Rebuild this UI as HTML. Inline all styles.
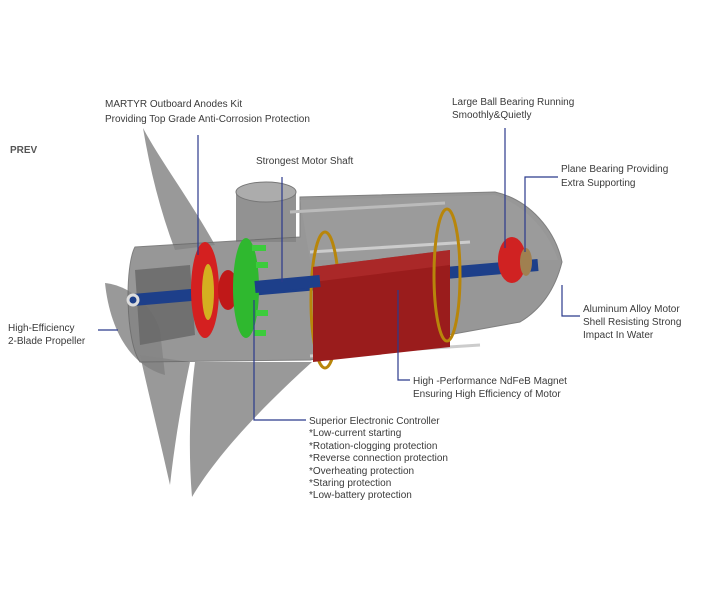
<!DOCTYPE html>
<html><head><meta charset="utf-8"><style>
html,body{margin:0;padding:0;background:#fff;}
svg{display:block;}
text{font-family:"Liberation Sans",sans-serif;font-size:10px;fill:#3a3a3a;}
</style></head><body>
<svg width="710" height="600" viewBox="0 0 710 600" xmlns="http://www.w3.org/2000/svg">
<rect width="710" height="600" fill="#fff"/>
<path d="M143,128 C160,160 190,200 215,245 L175,250 C160,210 150,170 143,128Z" fill="#808080" opacity="0.8"/>
<path d="M140,355 L190,362 C182,400 175,440 170,485 C160,440 150,400 140,355Z" fill="#808080" opacity="0.8"/>
<path d="M195,362 L312,362 C270,400 220,450 192,497 C188,450 190,400 195,362Z" fill="#808080" opacity="0.8"/>
<path d="M105,283 C125,285 150,300 160,330 L165,375 C130,365 110,330 105,283Z" fill="#808080" opacity="0.8"/>
<rect x="236" y="192" width="60" height="50" fill="#929292"/>
<ellipse cx="266" cy="192" rx="30" ry="10" fill="#acacac" stroke="#777"/>
<path d="M135,247 L300,237 L300,197 L495,192 C530,200 555,230 562,262 C555,290 540,310 520,322 L310,360 L140,362 C125,340 125,265 135,247Z" fill="#858585" opacity="0.85" stroke="#6a6a6a"/>
<path d="M300,200 L495,195 C525,205 548,230 558,260 L310,260Z" fill="#a0a0a0" opacity="0.5"/>
<line x1="290" y1="212" x2="445" y2="203" stroke="#bbb" stroke-width="3"/>
<line x1="310" y1="252" x2="470" y2="242" stroke="#ccc" stroke-width="3"/>
<line x1="310" y1="356" x2="480" y2="345" stroke="#ccc" stroke-width="3"/>
<path d="M135,270 L190,265 L195,335 L140,345Z" fill="#666" opacity="0.8"/>
<line x1="133" y1="300" x2="538" y2="265" stroke="#1d3f8a" stroke-width="12"/>
<circle cx="133" cy="300" r="5" fill="#1d3f8a" stroke="#ddd" stroke-width="3"/>
<ellipse cx="325" cy="300" rx="14" ry="68" fill="none" stroke="#b8860b" stroke-width="3"/>
<path d="M313,267 L450,250 L450,347 L313,362Z" fill="#9a1c1c"/>
<path d="M313,267 L450,250 L450,265 L313,282Z" fill="#b53030" opacity="0.6"/>
<ellipse cx="447" cy="275" rx="13" ry="66" fill="none" stroke="#b8860b" stroke-width="3"/>
<ellipse cx="205" cy="290" rx="14" ry="48" fill="#d42020"/>
<ellipse cx="208" cy="292" rx="6" ry="28" fill="#d4b020"/>
<ellipse cx="228" cy="290" rx="10" ry="20" fill="#c01818"/>
<ellipse cx="246" cy="288" rx="13" ry="50" fill="#2fb82f"/>
<rect x="252" y="245" width="14" height="6" fill="#3ccc3c"/>
<rect x="256" y="262" width="12" height="6" fill="#3ccc3c"/>
<rect x="256" y="310" width="12" height="6" fill="#3ccc3c"/>
<rect x="254" y="330" width="12" height="6" fill="#3ccc3c"/>
<line x1="255" y1="287" x2="320" y2="281" stroke="#1d3f8a" stroke-width="12"/>
<ellipse cx="512" cy="260" rx="14" ry="23" fill="#d02222"/>
<ellipse cx="526" cy="262" rx="6" ry="14" fill="#a08050"/>
<g stroke="#2b3a8c" stroke-width="1.2" fill="none">
<path d="M198,135 V255"/>
<path d="M505,128 V248"/>
<path d="M282,177 V282"/>
<path d="M558,177 H525 V252"/>
<path d="M580,316 H562 V285"/>
<path d="M98,330 H118"/>
<path d="M410,380 H398 V290"/>
<path d="M306,420 H254 V300"/>
</g>
<text x="10" y="153" style="font-weight:bold;fill:#555">PREV</text>
<text x="105" y="107">MARTYR Outboard Anodes Kit</text>
<text x="105" y="122">Providing Top Grade Anti-Corrosion Protection</text>
<text x="452" y="105">Large Ball Bearing Running</text>
<text x="452" y="118">Smoothly&amp;Quietly</text>
<text x="256" y="164">Strongest Motor Shaft</text>
<text x="561" y="172">Plane Bearing Providing</text>
<text x="561" y="186">Extra  Supporting</text>
<text x="583" y="312">Aluminum Alloy Motor</text>
<text x="583" y="325">Shell Resisting Strong</text>
<text x="583" y="338">Impact In Water</text>
<text x="8" y="331">High-Efficiency</text>
<text x="8" y="344">2-Blade Propeller</text>
<text x="413" y="384">High -Performance NdFeB Magnet</text>
<text x="413" y="397">Ensuring High Efficiency of Motor</text>
<text x="309" y="424">Superior Electronic Controller</text>
<text x="309" y="436">*Low-current starting</text>
<text x="309" y="449">*Rotation-clogging protection</text>
<text x="309" y="461">*Reverse connection protection</text>
<text x="309" y="474">*Overheating protection</text>
<text x="309" y="486">*Staring protection</text>
<text x="309" y="498">*Low-battery protection</text>
</svg>
</body></html>
